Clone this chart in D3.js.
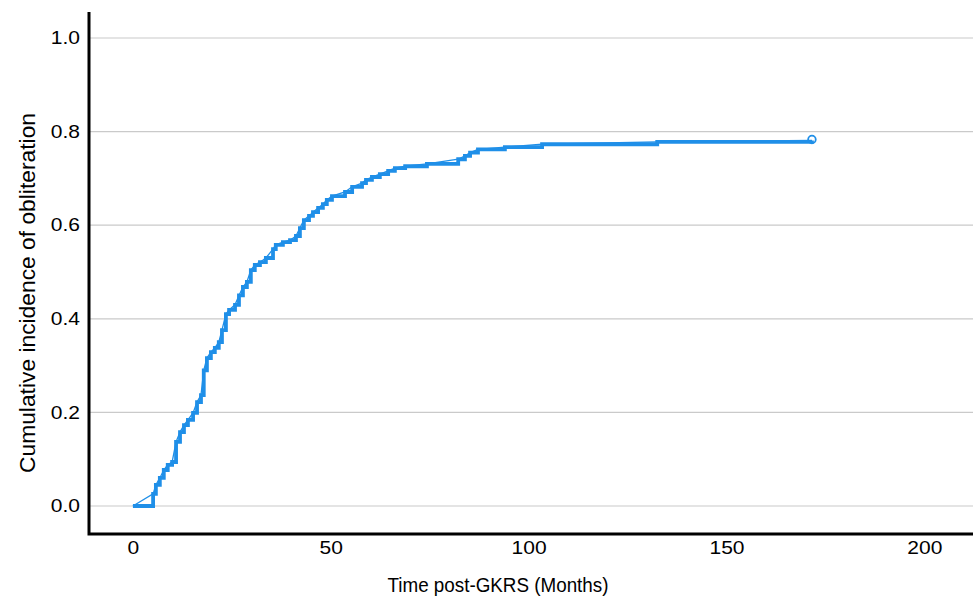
<!DOCTYPE html>
<html>
<head>
<meta charset="utf-8">
<script src="https://cdn.jsdelivr.net/npm/d3@7"></script>
<style>
  body { margin: 0; background: #fff; }
  text { font-family: "Liberation Sans", Arial, sans-serif; fill: #000; }
</style>
</head>
<body>
<svg width="973" height="598"></svg>
<script>
// event times (months) and cumulative incidence after each step
const months = [0, 5.1, 5.8, 6.8, 7.8, 8.8, 9.9, 10.9, 11.9, 12.9, 13.9, 15.2, 16.2, 17.2, 17.9,
  18.7, 19.7, 20.7, 21.7, 22.5, 23.5, 24.3, 25.8, 26.8, 27.8, 28.8, 29.8, 30.8, 32.1, 33.6,
  35.4, 36.1, 37.9, 39.7, 41.2, 42.2, 43.2, 44.5, 45.5, 46.8, 48.0, 49.0, 50.3, 53.6, 55.4,
  57.9, 58.9, 60.4, 62.4, 64.5, 66.2, 68.8, 74.3, 82.2, 83.9, 85.2, 87.2, 94.0, 103.4, 132.5, 171.6];
const cumInc = [0, 0.026, 0.045, 0.060, 0.077, 0.088, 0.094, 0.137, 0.158, 0.173, 0.184, 0.199, 0.222, 0.237, 0.290,
  0.316, 0.329, 0.338, 0.350, 0.376, 0.410, 0.419, 0.430, 0.450, 0.468, 0.479, 0.504, 0.515, 0.521, 0.530,
  0.549, 0.558, 0.564, 0.568, 0.577, 0.594, 0.611, 0.620, 0.628, 0.637, 0.645, 0.654, 0.662, 0.671, 0.682,
  0.690, 0.697, 0.703, 0.709, 0.716, 0.722, 0.726, 0.731, 0.741, 0.748, 0.755, 0.762, 0.767, 0.773, 0.778, 0.781];
const xTicks = [0, 50, 100, 150, 200];
const yTicks = [0, 0.2, 0.4, 0.6, 0.8, 1.0];

const pts = months.map((m, i) => ({t: m, v: cumInc[i]}));
const blue = "#1f8fe8";
const stretch = 1.2;   // tick labels are drawn a little wide

const svg = d3.select("svg");
const plotL = 89, plotR = 973, plotT = 12, plotB = 534;

const x = d3.scaleLinear().domain([-11.1, 212.3]).range([plotL, plotR]);
const y = d3.scaleLinear().domain([-0.0598, 1.0556]).range([plotB, plotT]);

// gridlines
svg.append("g")
  .selectAll("line")
  .data(yTicks)
  .enter()
  .append("line")
  .attr("x1", plotL).attr("x2", plotR)
  .attr("y1", d => y(d)).attr("y2", d => y(d))
  .attr("stroke", "#cacaca").attr("stroke-width", 1.2);

// axes, labels only
const yAxis = svg.append("g")
  .attr("transform", `translate(${plotL},0)`)
  .call(d3.axisLeft(y).tickValues(yTicks).tickFormat(d3.format(".1f")).tickSize(0).tickPadding(9));
const xAxis = svg.append("g")
  .attr("transform", `translate(0,${plotB})`)
  .call(d3.axisBottom(x).tickValues(xTicks).tickFormat(d3.format("d")).tickSize(0).tickPadding(8));
[yAxis, xAxis].forEach(a => {
  a.select(".domain").remove();
  a.selectAll("text")
    .attr("font-size", 17.5)
    .attr("font-family", "Liberation Sans, Arial, sans-serif")
    .attr("transform", `scale(${stretch},1)`);
});
yAxis.selectAll("text").attr("x", -9 / stretch);

// thin connecting line
svg.append("path")
  .datum(pts)
  .attr("fill", "none")
  .attr("stroke", blue)
  .attr("stroke-width", 1.3)
  .attr("d", d3.line().x(d => x(d.t)).y(d => y(d.v)));

// step line
svg.append("path")
  .datum(pts)
  .attr("fill", "none")
  .attr("stroke", blue)
  .attr("stroke-width", 3.8)
  .attr("stroke-linejoin", "miter")
  .attr("d", d3.line().curve(d3.curveStepAfter).x(d => x(d.t)).y(d => y(d.v)));

// censor mark at the end
const last = pts[pts.length - 1];
svg.append("circle")
  .attr("cx", x(last.t)).attr("cy", y(last.v) - 1)
  .attr("r", 3.8)
  .attr("fill", "none").attr("stroke", blue).attr("stroke-width", 1.8);

// axis frame
svg.append("path")
  .attr("d", `M${plotL},${plotT}V${plotB}H${plotR}`)
  .attr("fill", "none").attr("stroke", "#000").attr("stroke-width", 3);

svg.append("text")
  .attr("transform", "translate(35,293) rotate(-90)")
  .attr("text-anchor", "middle")
  .attr("font-size", 22)
  .attr("textLength", 360)
  .attr("lengthAdjust", "spacingAndGlyphs")
  .text("Cumulative incidence of obliteration");

svg.append("text")
  .attr("x", 498).attr("y", 592)
  .attr("text-anchor", "middle")
  .attr("font-size", 20)
  .attr("textLength", 221)
  .attr("lengthAdjust", "spacingAndGlyphs")
  .text("Time post-GKRS (Months)");
</script>
</body>
</html>
